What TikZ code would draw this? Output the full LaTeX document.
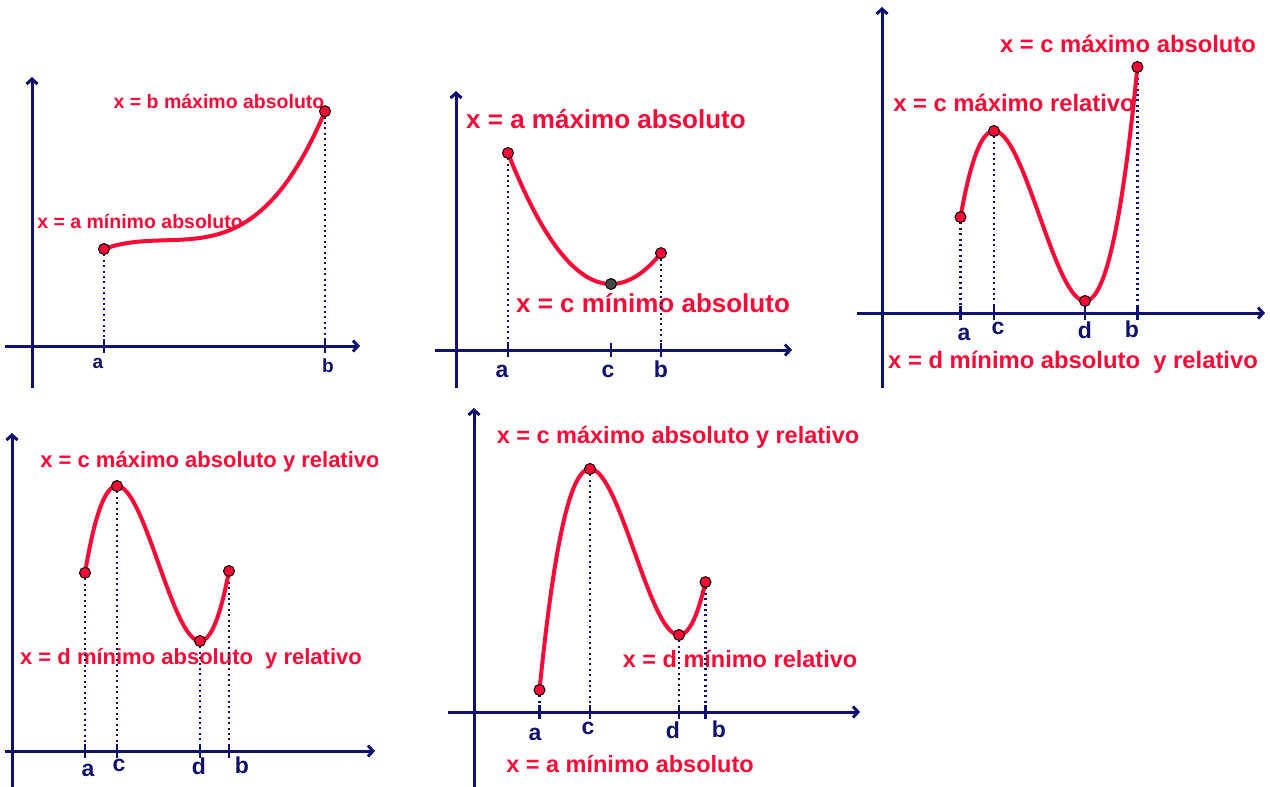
\documentclass[tikz,border=0pt]{standalone}
\usepackage{fontspec}
\setmainfont{Liberation Sans}
\usetikzlibrary{arrows.meta}
\definecolor{navy}{RGB}{16,16,110}
\definecolor{ggred}{RGB}{250,10,55}
\definecolor{ggdark}{RGB}{70,70,70}
\begin{document}
\begin{tikzpicture}[x=1pt,y=-1pt,
  declare function={
    fone(\x)=240.3-3*((\x-165)/100)-30.33*((\x-165)/100)*((\x-165)/100)*((\x-165)/100);
    ftwo(\x)=284-123.5*((\x-611)/100)*((\x-611)/100);
    fthree(\x)=131-1353.6*(((\x-994)/100)*((\x-994)/100)*((\x-994)/100)/3-0.455*((\x-994)/100)*((\x-994)/100));
    ffour(\x)=486-1626.5*(((\x-117)/100)*((\x-117)/100)*((\x-117)/100)/3-0.415*((\x-117)/100)*((\x-117)/100));
    ffive(\x)=469-1412.8*(((\x-590)/100)*((\x-590)/100)*((\x-590)/100)/3-0.445*((\x-590)/100)*((\x-590)/100));
  },
  axis/.style={draw=navy,line width=3pt,-{Straight Barb[length=5pt,width=11pt]}},
  tickmark/.style={draw=navy,line width=2.6pt},
  dotline/.style={draw=navy,line width=2.2pt,dash pattern=on 2pt off 3.4pt},
  curve/.style={draw=ggred,line width=4pt,line cap=round},
  pt/.style={circle,fill=ggred,draw=black,line width=1pt,inner sep=0pt,minimum size=11pt},
  lbl/.style={text=ggred,anchor=base,inner sep=0pt},
  axl/.style={text=navy,anchor=base,inner sep=0pt},
  fa/.style={font=\bfseries\fontsize{19.5}{22}\selectfont},
  fb/.style={font=\bfseries\fontsize{26}{30}\selectfont},
  fc/.style={font=\bfseries\fontsize{23.8}{28}\selectfont},
  fd/.style={font=\bfseries\fontsize{22}{26}\selectfont},
  fe/.style={font=\bfseries\fontsize{23.5}{28}\selectfont},
  sa/.style={font=\bfseries\fontsize{19}{21}\selectfont},
  sb/.style={font=\bfseries\fontsize{23}{26}\selectfont}
]
\useasboundingbox[fill=white] (0,0) rectangle (1270,787);

%% ---------------- Panel 1 ----------------
\node[lbl,fa] (t1b) at (219,108) {x = b máximo absoluto};
\node[lbl,fa] (t1a) at (140,228) {x = a mínimo absoluto};
\coordinate (o1x) at (5,346);  \coordinate (e1x) at (360,346);
\coordinate (o1y) at (32,388); \coordinate (e1y) at (32,77);
\draw[axis] (o1x) -- (e1x);
\draw[axis] (o1y) -- (e1y);
\coordinate (p1a) at (104,{fone(104)}); \coordinate (p1b) at (325,{fone(325)});
\coordinate (k1a) at (104,346); \coordinate (k1b) at (325,346);
\draw[tickmark] ([yshift=-7pt]k1a) -- ([yshift=7pt]k1a);
\draw[tickmark] ([yshift=-7pt]k1b) -- ([yshift=7pt]k1b);
\draw[dotline] (p1a) -- (k1a);
\draw[dotline] (p1b) -- (k1b);
\node[axl,sa] (l1a) at (98,368) {a};
\node[axl,sa] (l1b) at (328,372) {b};
\draw[curve] plot[domain=104:325,samples=80] (\x,{fone(\x)});
\node[pt] (n1a) at (p1a) {};
\node[pt] (n1b) at (p1b) {};

%% ---------------- Panel 2 ----------------
\node[lbl,fb] (t2a) at (606,128) {x = a máximo absoluto};
\node[lbl,fb] (t2c) at (653,312) {x = c mínimo absoluto};
\coordinate (o2x) at (435,350); \coordinate (e2x) at (792,350);
\coordinate (o2y) at (456,388); \coordinate (e2y) at (456,91);
\draw[axis] (o2x) -- (e2x);
\draw[axis] (o2y) -- (e2y);
\coordinate (p2a) at (508,{ftwo(508)}); \coordinate (p2c) at (611,{ftwo(611)}); \coordinate (p2b) at (661,{ftwo(661)});
\coordinate (k2a) at (508,350); \coordinate (k2c) at (611,350); \coordinate (k2b) at (661,350);
\draw[tickmark] ([yshift=-7pt]k2a) -- ([yshift=7pt]k2a);
\draw[tickmark] ([yshift=-7pt]k2c) -- ([yshift=7pt]k2c);
\draw[tickmark] ([yshift=-7pt]k2b) -- ([yshift=7pt]k2b);
\draw[dotline] (p2a) -- (k2a);
\draw[dotline] (p2b) -- (k2b);
\node[axl,sb] (l2a) at (502,377) {a};
\node[axl,sb] (l2c) at (608,377) {c};
\node[axl,sb] (l2b) at (661,377) {b};
\draw[curve] plot[domain=508:661,samples=60] (\x,{ftwo(\x)});
\node[pt] (n2a) at (p2a) {};
\node[pt,fill=ggdark] (n2c) at (p2c) {};
\node[pt] (n2b) at (p2b) {};

%% ---------------- Panel 3 ----------------
\node[lbl,fc] (t3b) at (1128,52) {x = c máximo absoluto};
\node[lbl,fc] (t3c) at (1014,111) {x = c máximo relativo};
\node[lbl,fc] (t3d) at (1073,368) {x = d mínimo absoluto\ \ y relativo};
\coordinate (o3x) at (857,313); \coordinate (e3x) at (1265,313);
\coordinate (o3y) at (882,388); \coordinate (e3y) at (882,7);
\draw[axis] (o3x) -- (e3x);
\draw[axis] (o3y) -- (e3y);
\coordinate (p3a) at (960.5,{fthree(960.5)}); \coordinate (p3c) at (994,{fthree(994)});
\coordinate (p3d) at (1085,{fthree(1085)}); \coordinate (p3b) at (1137.4,{fthree(1137.4)});
\coordinate (k3a) at (960.5,313); \coordinate (k3c) at (994,313);
\coordinate (k3d) at (1085,313); \coordinate (k3b) at (1137.4,313);
\foreach \k in {k3a,k3c,k3d,k3b} \draw[tickmark] ([yshift=-7pt]\k) -- ([yshift=7pt]\k);
\draw[dotline] (p3a) -- (k3a);
\draw[dotline] (p3c) -- (k3c);
\draw[dotline] (p3b) -- (k3b);
\node[axl,sb] (l3a) at (964,340) {a};
\node[axl,sb] (l3c) at (998,334) {c};
\node[axl,sb] (l3d) at (1085,338) {d};
\node[axl,sb] (l3b) at (1132,337) {b};
\draw[curve] plot[domain=960.5:1137.4,samples=100] (\x,{fthree(\x)});
\node[pt] (n3a) at (p3a) {};
\node[pt] (n3c) at (p3c) {};
\node[pt] (n3d) at (p3d) {};
\node[pt] (n3b) at (p3b) {};

%% ---------------- Panel 4 ----------------
\begin{scope}
\clip (0,400) rectangle (377,787);
\node[lbl,fd] (t4c) at (210,467) {x = c máximo absoluto y relativo};
\end{scope}
\node[lbl,fd] (t4d) at (191,664) {x = d mínimo absoluto\ \ y relativo};
\coordinate (o4x) at (5,751); \coordinate (e4x) at (375,751);
\coordinate (o4y) at (12,790); \coordinate (e4y) at (12,433);
\draw[axis] (o4x) -- (e4x);
\draw[axis] (o4y) -- (e4y);
\coordinate (p4a) at (85,{ffour(85)}); \coordinate (p4c) at (117,{ffour(117)});
\coordinate (p4d) at (200,{ffour(200)}); \coordinate (p4b) at (229,{ffour(229)});
\coordinate (k4a) at (85,751); \coordinate (k4c) at (117,751);
\coordinate (k4d) at (200,751); \coordinate (k4b) at (229,751);
\foreach \k in {k4a,k4c,k4d,k4b} \draw[tickmark] ([yshift=-7pt]\k) -- ([yshift=7pt]\k);
\draw[dotline] (p4a) -- (k4a);
\draw[dotline] (p4c) -- (k4c);
\draw[dotline] (p4d) -- (k4d);
\draw[dotline] (p4b) -- (k4b);
\node[axl,sb] (l4a) at (88,776) {a};
\node[axl,sb] (l4c) at (119,771) {c};
\node[axl,sb] (l4d) at (199,774) {d};
\node[axl,sb] (l4b) at (242,773) {b};
\draw[curve] plot[domain=85:229,samples=80] (\x,{ffour(\x)});
\node[pt] (n4a) at (p4a) {};
\node[pt] (n4c) at (p4c) {};
\node[pt] (n4d) at (p4d) {};
\node[pt] (n4b) at (p4b) {};

%% ---------------- Panel 5 ----------------
\node[lbl,fe] (t5c) at (678,443) {x = c máximo absoluto y relativo};
\node[lbl,fe] (t5d) at (740,667) {x = d mínimo relativo};
\node[lbl,fe] (t5a) at (630,772) {x = a mínimo absoluto};
\coordinate (o5x) at (448,712); \coordinate (e5x) at (860,712);
\coordinate (o5y) at (474,790); \coordinate (e5y) at (474,408);
\draw[axis] (o5x) -- (e5x);
\draw[axis] (o5y) -- (e5y);
\coordinate (p5a) at (539.5,{ffive(539.5)}); \coordinate (p5c) at (590,{ffive(590)});
\coordinate (p5d) at (679,{ffive(679)}); \coordinate (p5b) at (705.5,{ffive(705.5)});
\coordinate (k5a) at (539.5,712); \coordinate (k5c) at (590,712);
\coordinate (k5d) at (679,712); \coordinate (k5b) at (705.5,712);
\foreach \k in {k5a,k5c,k5d,k5b} \draw[tickmark] ([yshift=-7pt]\k) -- ([yshift=7pt]\k);
\draw[dotline] (p5a) -- (k5a);
\draw[dotline] (p5c) -- (k5c);
\draw[dotline] (p5d) -- (k5d);
\draw[dotline] (p5b) -- (k5b);
\node[axl,sb] (l5a) at (535,740) {a};
\node[axl,sb] (l5c) at (588,734) {c};
\node[axl,sb] (l5d) at (673,738) {d};
\node[axl,sb] (l5b) at (719,737) {b};
\draw[curve] plot[domain=539.5:705.5,samples=100] (\x,{ffive(\x)});
\node[pt] (n5a) at (p5a) {};
\node[pt] (n5c) at (p5c) {};
\node[pt] (n5d) at (p5d) {};
\node[pt] (n5b) at (p5b) {};
\end{tikzpicture}
\end{document}
